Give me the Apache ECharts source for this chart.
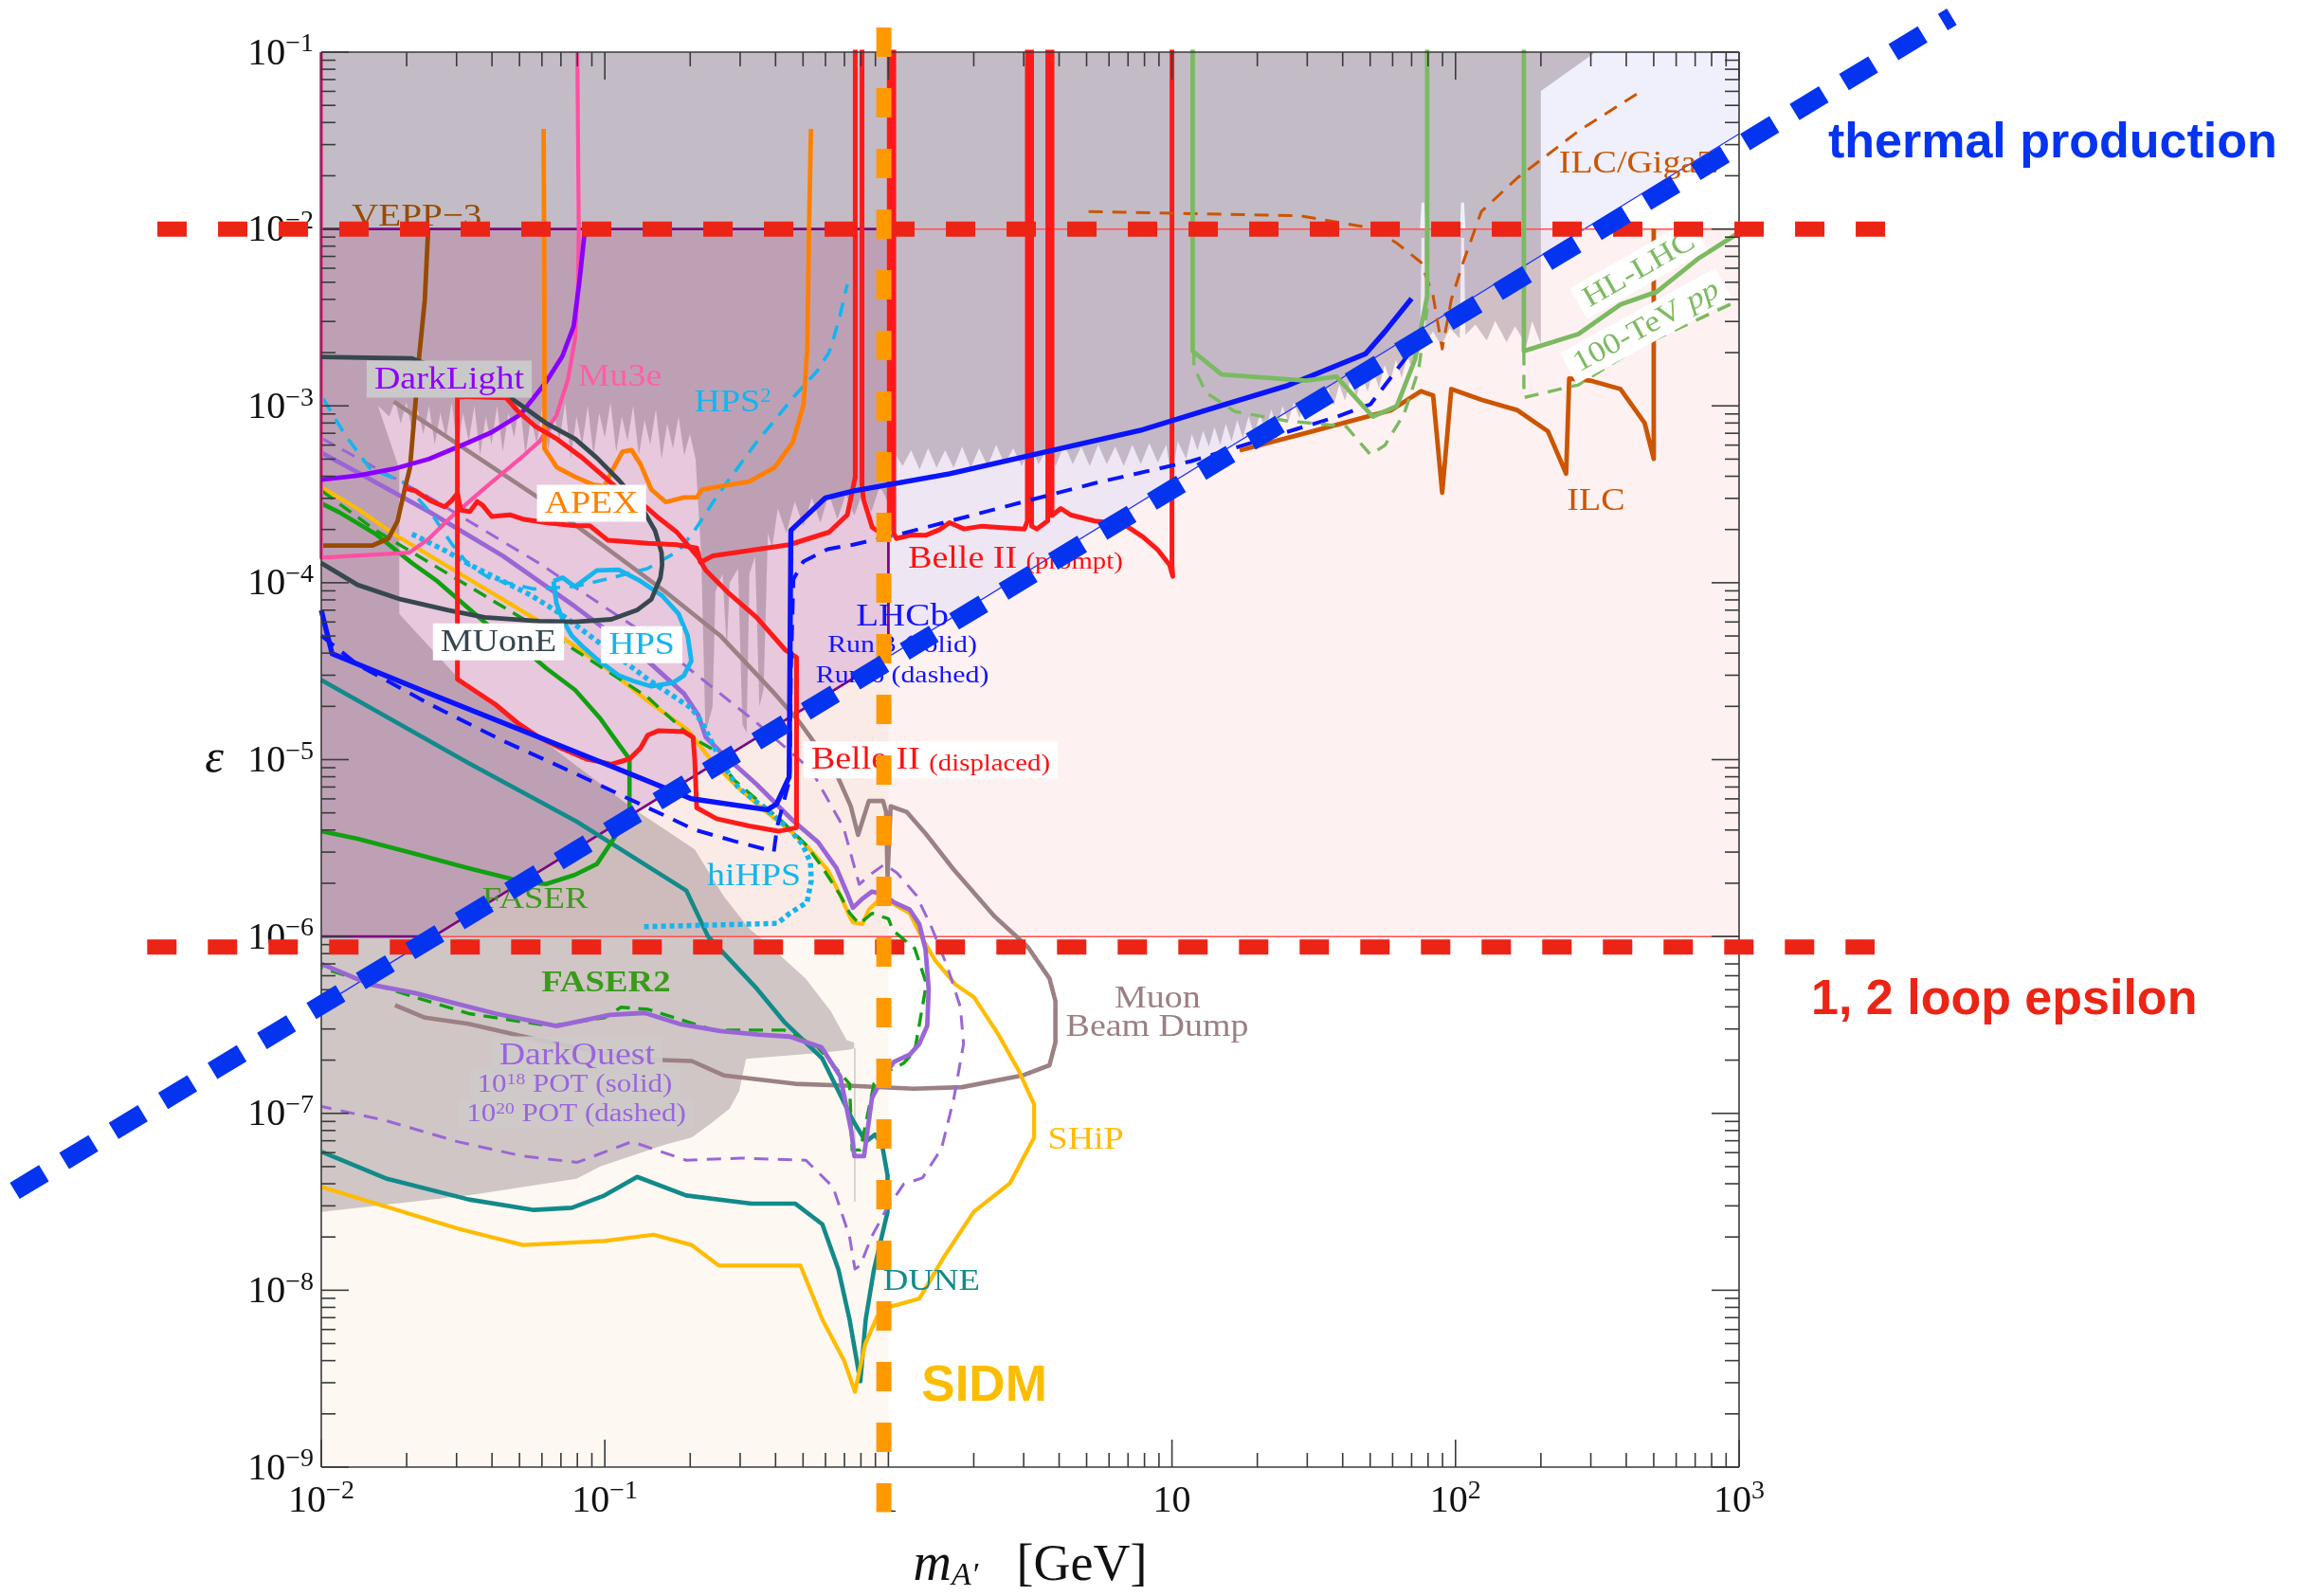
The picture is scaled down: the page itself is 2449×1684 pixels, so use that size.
<!DOCTYPE html>
<html>
<head>
<meta charset="utf-8">
<script src="https://cdn.jsdelivr.net/npm/echarts@6/dist/echarts.min.js"></script>
<style>
  html, body { margin: 0; padding: 0; background: #ffffff; }
  #chart { width: 2449px; height: 1684px; }
</style>
</head>
<body>
<div id="chart"></div>
<script>
// Dark photon parameter space: kinetic mixing epsilon versus A' mass.
// Every curve and region is listed as [log10(m / GeV), log10(epsilon)] pairs.

const SERIF = "'Liberation Serif', 'DejaVu Serif', serif";
const SANS = "'Liberation Sans', Arial, sans-serif";

// ---------- axes ----------
const X_MIN = 0.01, X_MAX = 1000;
const Y_MIN = 1e-9, Y_MAX = 1e-1;
const X_DECADES = [0.01, 0.1, 1, 10, 100, 1000];
const Y_DECADES = [1e-9, 1e-8, 1e-7, 1e-6, 1e-5, 1e-4, 1e-3, 1e-2, 1e-1];

// ---------- shaded regions ----------
const lowMassStrip = [[-2, -9], [0, -9], [0, -2], [-2, -2]];
const loopBand = [[-2, -6], [3, -6], [3, -2], [-2, -2]];
const aboveThermalHeavy = [[0, -4.418], [3, -1.462], [3, -1], [0, -1]];
const sidmBand = [[-2, -6], [-1.6045, -6], [0, -4.418], [0, -2], [-2, -2]];

const excludedTop = [
  [-2, -1], [2.494, -1], [2.301, -1.22], [2.301, -2], [2.035, -2], [2.03, -1.85], [2.02, -1.85],
  [2.015, -2], [1.895, -2], [1.89, -1.85], [1.88, -1.85], [1.875, -2], [-2, -2]
];

const excludedBelow = [
  [-2, -2], [2.301, -2], [2.301, -2.65], [2.27, -2.52], [2.25, -2.66], [2.21, -2.55], [2.18, -2.64],
  [2.14, -2.52], [2.11, -2.63], [2.07, -2.54], [2.035, -2.60],
  [2.03, -2.05], [2.02, -2.05], [2.015, -2.62], [1.98, -2.56], [1.95, -2.66], [1.92, -2.58], [1.895, -2.65],
  [1.89, -2.05], [1.88, -2.05], [1.875, -2.68],
  [1.85, -2.80], [1.83, -2.72], [1.81, -2.84], [1.79, -2.74], [1.77, -2.86], [1.75, -2.77], [1.73, -2.90],
  [1.71, -2.80], [1.69, -2.92], [1.67, -2.83], [1.65, -2.95], [1.63, -2.85], [1.61, -2.97], [1.59, -2.88],
  [1.57, -3.00], [1.55, -2.90], [1.53, -3.02], [1.51, -2.93], [1.49, -3.05], [1.47, -2.95], [1.45, -3.07],
  [1.43, -2.98], [1.41, -3.09], [1.39, -3.00], [1.37, -3.12], [1.35, -3.02], [1.33, -3.14], [1.31, -3.05],
  [1.29, -3.16], [1.27, -3.06], [1.25, -3.18], [1.23, -3.08], [1.21, -3.20], [1.19, -3.10], [1.17, -3.22],
  [1.15, -3.12], [1.13, -3.23], [1.11, -3.14], [1.09, -3.25], [1.07, -3.16], [1.05, -3.30], [1.02, -3.20],
  [1.00, -3.42], [0.98, -3.22], [0.95, -3.32], [0.92, -3.21], [0.89, -3.33], [0.86, -3.22], [0.83, -3.34],
  [0.80, -3.23], [0.77, -3.33], [0.74, -3.22], [0.71, -3.34], [0.68, -3.23], [0.65, -3.33], [0.62, -3.22],
  [0.59, -3.34], [0.56, -3.24], [0.53, -3.33], [0.50, -3.23], [0.47, -3.34], [0.44, -3.24], [0.41, -3.33],
  [0.38, -3.22], [0.35, -3.34], [0.32, -3.24], [0.29, -3.35], [0.26, -3.23], [0.23, -3.35], [0.20, -3.25],
  [0.17, -3.35], [0.14, -3.24], [0.11, -3.36], [0.08, -3.25], [0.05, -3.34], [0.02, -3.26], [0.0, -3.30],
  [0.0, -3.55], [-0.03, -3.45], [-0.06, -3.60], [-0.09, -3.48], [-0.12, -3.62], [-0.15, -3.50], [-0.18, -3.64],
  [-0.21, -3.50], [-0.24, -3.66], [-0.27, -3.52], [-0.30, -3.68], [-0.33, -3.54], [-0.36, -3.72], [-0.39, -3.58],
  [-0.41, -3.80], [-0.425, -3.72], [-0.44, -4.60], [-0.455, -4.70], [-0.47, -3.85], [-0.49, -3.95],
  [-0.50, -4.85], [-0.515, -4.80], [-0.53, -3.92], [-0.56, -4.00], [-0.57, -4.38], [-0.585, -3.95],
  [-0.61, -4.05], [-0.62, -4.70], [-0.645, -4.85], [-0.66, -3.85],
  [-0.68, -3.30], [-0.70, -3.16], [-0.72, -3.28], [-0.74, -3.06], [-0.76, -3.24], [-0.78, -3.10], [-0.80, -3.30],
  [-0.82, -3.02], [-0.84, -3.22], [-0.86, -3.08], [-0.88, -3.28], [-0.90, -3.00], [-0.92, -3.20], [-0.94, -3.06],
  [-0.96, -3.26], [-0.98, -2.98], [-1.00, -3.18], [-1.02, -3.04], [-1.04, -3.28], [-1.06, -3.00], [-1.08, -3.22],
  [-1.10, -3.06], [-1.12, -3.30], [-1.14, -2.98], [-1.16, -3.20], [-1.18, -3.04], [-1.20, -3.26], [-1.22, -3.00],
  [-1.24, -3.22], [-1.26, -3.06], [-1.28, -3.28], [-1.30, -2.98], [-1.32, -3.18], [-1.34, -3.04], [-1.36, -3.26],
  [-1.38, -3.00], [-1.40, -3.22], [-1.42, -3.06], [-1.44, -3.28], [-1.46, -3.00], [-1.48, -3.20], [-1.50, -3.04],
  [-1.52, -3.24], [-1.54, -2.98], [-1.56, -3.18], [-1.58, -3.04], [-1.60, -3.22], [-1.62, -3.00], [-1.64, -3.16],
  [-1.66, -3.02], [-1.68, -3.14], [-1.70, -2.98], [-1.72, -3.10], [-1.74, -2.97], [-1.76, -3.06], [-1.80, -3.00],
  [-1.725, -3.356], [-1.725, -4.176], [-1.514, -4.545], [-1.233, -4.873], [-0.913, -5.262], [-0.798, -5.385],
  [-0.683, -5.508], [-0.58, -5.774], [-0.491, -5.955], [-0.404, -6.074], [-0.292, -6.238], [-0.203, -6.422],
  [-0.147, -6.586], [-0.121, -6.60], [-0.121, -7.50], [-0.116, -7.50], [-0.116, -6.63], [-0.137, -6.64],
  [-0.233, -6.657], [-0.502, -6.692], [-0.526, -6.873], [-0.56, -6.973], [-0.626, -7.058], [-0.694, -7.137],
  [-0.793, -7.18], [-1.016, -7.30], [-1.10, -7.37], [-1.48, -7.464], [-2.0, -7.557]
];

// ---------- boundary lines of the shaded bands ----------
const thermalThin = [[-2, -6.39], [3, -1.462]];
const sidmEdge = [[-2, -6], [-1.6045, -6], [0, -4.418], [0, -2], [-2, -2]];
const loopEdgeTop = [[0, -2], [3, -2]];
const loopEdgeBottom = [[-1.6045, -6], [3, -6]];

// ---------- projected and existing limits ----------
const belleIIPrompt = [
  [-1.706, -3.464], [-1.667, -3.482], [-1.616, -3.535], [-1.565, -3.571], [-1.540, -3.535], [-1.520, -3.494],
  [-1.508, -3.589], [-1.476, -3.598], [-1.450, -3.541], [-1.431, -3.562], [-1.399, -3.625], [-1.335, -3.616],
  [-1.284, -3.642], [-1.207, -3.660], [-1.105, -3.678], [-1.053, -3.678], [-0.990, -3.759], [-0.849, -3.777],
  [-0.746, -3.785], [-0.676, -3.803], [-0.663, -3.884], [-0.619, -3.848], [-0.465, -3.812], [-0.350, -3.785],
  [-0.209, -3.714], [-0.145, -3.616], [-0.126, -3.473], [-0.117, -3.40], [-0.117, -0.5], [-0.093, -0.5],
  [-0.093, -3.45], [-0.088, -3.526], [-0.057, -3.687], [-0.006, -3.741], [0.003, -3.70], [0.003, -0.5],
  [0.019, -0.5], [0.019, -3.72], [0.028, -3.75], [0.080, -3.73], [0.131, -3.732], [0.180, -3.70], [0.216, -3.66],
  [0.267, -3.696], [0.330, -3.680], [0.387, -3.687], [0.480, -3.696], [0.490, -3.65], [0.490, -0.5],
  [0.505, -0.5], [0.505, -3.68], [0.523, -3.696], [0.562, -3.65], [0.562, -0.5], [0.577, -0.5], [0.577, -3.62],
  [0.608, -3.58], [0.642, -3.616], [0.728, -3.651], [0.830, -3.669], [0.898, -3.741], [0.949, -3.812],
  [0.992, -3.90], [1.003, -3.964], [1.0, -3.90], [1.0, -0.5]
];
const belleIIDisplaced = [
  [-1.520, -2.946], [-1.520, -4.545], [-1.463, -4.606], [-1.386, -4.688], [-1.309, -4.791], [-1.233, -4.873],
  [-1.156, -4.934], [-1.066, -4.996], [-0.977, -5.026], [-0.913, -4.996], [-0.874, -4.934], [-0.849, -4.862],
  [-0.810, -4.836], [-0.721, -4.842], [-0.689, -4.873], [-0.683, -4.996], [-0.676, -5.272], [-0.606, -5.334],
  [-0.491, -5.375], [-0.388, -5.405], [-0.324, -5.385], [-0.324, -4.422], [-0.363, -4.381], [-0.465, -4.196],
  [-0.567, -4.053], [-0.644, -3.930], [-0.670, -3.858], [-0.746, -3.714], [-0.810, -3.634], [-0.874, -3.544],
  [-0.938, -3.491], [-1.002, -3.401], [-1.079, -3.294], [-1.169, -3.187], [-1.245, -3.116], [-1.309, -3.026],
  [-1.348, -2.955], [-1.520, -2.946]
];
const muone = [
  [-2.0, -2.723], [-1.680, -2.732], [-1.348, -2.937], [-1.284, -3.009], [-1.207, -3.098], [-1.105, -3.187],
  [-1.028, -3.294], [-0.951, -3.419], [-0.874, -3.562], [-0.823, -3.705], [-0.800, -3.830], [-0.798, -3.90],
  [-0.804, -3.971], [-0.836, -4.094], [-0.887, -4.155], [-0.977, -4.207], [-1.105, -4.221], [-1.233, -4.217],
  [-1.424, -4.196], [-1.552, -4.155], [-1.719, -4.094], [-1.872, -4.012], [-2.0, -3.889]
];
const apex = [
  [-1.216, -1.434], [-1.213, -2.5], [-1.213, -3.241], [-1.169, -3.348], [-1.105, -3.401], [-1.041, -3.446],
  [-1.002, -3.455], [-0.977, -3.375], [-0.938, -3.259], [-0.906, -3.250], [-0.874, -3.330], [-0.836, -3.473],
  [-0.785, -3.544], [-0.721, -3.518], [-0.676, -3.518], [-0.657, -3.473], [-0.593, -3.455], [-0.491, -3.428],
  [-0.401, -3.348], [-0.337, -3.205], [-0.299, -2.991], [-0.286, -2.669], [-0.280, -2.0], [-0.273, -1.434]
];
const mu3e = [
  [-1.097, -1.0], [-1.092, -2.0], [-1.095, -2.35], [-1.105, -2.62], [-1.13, -2.85], [-1.17, -3.05],
  [-1.23, -3.20], [-1.30, -3.30], [-1.42, -3.46], [-1.55, -3.64], [-1.62, -3.75], [-1.69, -3.83],
  [-2.0, -3.858], [-2.0, -1.0]
];
const darkLight = [
  [-1.07, -2.0], [-1.09, -2.3], [-1.11, -2.55], [-1.15, -2.72], [-1.207, -2.864], [-1.297, -3.048],
  [-1.40, -3.15], [-1.488, -3.212], [-1.62, -3.30], [-1.744, -3.356], [-1.872, -3.395], [-2.0, -3.417]
];
const vepp3 = [
  [-1.623, -2.0], [-1.635, -2.402], [-1.655, -2.723], [-1.670, -3.026], [-1.687, -3.348], [-1.706, -3.473],
  [-1.731, -3.651], [-1.763, -3.750], [-1.821, -3.790], [-2.0, -3.790]
];
const hps2 = [
  [-1.993, -2.96], [-1.916, -3.164], [-1.830, -3.351], [-1.711, -3.432], [-1.609, -3.614], [-1.54, -3.78],
  [-1.48, -3.90], [-1.40, -3.98], [-1.25, -4.035], [-1.10, -4.02], [-0.97, -3.97], [-0.85, -3.92],
  [-0.74, -3.82], [-0.69, -3.72], [-0.60, -3.50], [-0.465, -3.205], [-0.40, -3.08], [-0.337, -2.955],
  [-0.25, -2.80], [-0.235, -2.76], [-0.21, -2.70], [-0.196, -2.634], [-0.171, -2.491], [-0.145, -2.312]
];
const hps = [
  [-1.181, -3.991], [-1.149, -3.971], [-1.105, -4.022], [-1.028, -3.930], [-0.951, -3.926], [-0.874, -3.991],
  [-0.798, -4.073], [-0.740, -4.176], [-0.708, -4.299], [-0.695, -4.442], [-0.721, -4.524], [-0.759, -4.565],
  [-0.836, -4.586], [-0.900, -4.555], [-0.951, -4.524], [-1.028, -4.432], [-1.079, -4.360], [-1.117, -4.299],
  [-1.149, -4.207], [-1.171, -4.114], [-1.181, -3.991]
];
const hiHps = [
  [-1.680, -3.725], [-1.565, -3.817], [-1.463, -3.909], [-1.360, -3.991], [-1.258, -4.073], [-1.156, -4.176],
  [-1.053, -4.299], [-0.951, -4.422], [-0.849, -4.545], [-0.772, -4.627], [-0.695, -4.709], [-0.657, -4.791],
  [-0.619, -4.914], [-0.580, -5.037], [-0.529, -5.159], [-0.404, -5.316], [-0.348, -5.397], [-0.303, -5.479],
  [-0.275, -5.582], [-0.272, -5.684], [-0.287, -5.807], [-0.348, -5.869], [-0.392, -5.926], [-0.872, -5.945]
];
const muonBeamDump = [
  [-1.744, -2.977], [-1.233, -3.52], [-0.785, -4.053], [-0.593, -4.299], [-0.401, -4.627], [-0.312, -4.791],
  [-0.248, -4.934], [-0.184, -5.078], [-0.133, -5.262], [-0.107, -5.426], [-0.069, -5.234], [-0.019, -5.234],
  [-0.008, -5.295], [-0.003, -5.664], [0.008, -5.264], [0.064, -5.295], [0.131, -5.418], [0.231, -5.623],
  [0.376, -5.889], [0.443, -5.987], [0.493, -6.062], [0.568, -6.237], [0.589, -6.365], [0.589, -6.599],
  [0.568, -6.728], [0.472, -6.786], [0.259, -6.852], [0.088, -6.861], [-0.125, -6.845], [-0.329, -6.833],
  [-0.579, -6.786], [-0.694, -6.704], [-0.905, -6.693], [-1.289, -6.564], [-1.481, -6.494], [-1.634, -6.459],
  [-1.74, -6.389]
];
const lhcbRun3 = [
  [-2.0, -4.155], [-1.962, -4.401], [-1.616, -4.627], [-1.233, -4.873], [-0.977, -5.037], [-0.695, -5.221],
  [-0.427, -5.283], [-0.395, -5.252], [-0.350, -5.098], [-0.344, -3.704], [-0.222, -3.52], [-0.125, -3.482],
  [0.216, -3.384], [0.557, -3.259], [0.898, -3.134], [1.188, -2.991], [1.41, -2.884], [1.683, -2.705],
  [1.751, -2.58], [1.845, -2.393]
];
const lhcbRun6 = [
  [-2.0, -4.299], [-1.872, -4.463], [-1.616, -4.688], [-1.36, -4.893], [-1.105, -5.078], [-0.927, -5.213],
  [-0.682, -5.397], [-0.548, -5.459], [-0.404, -5.52], [-0.392, -5.377], [-0.348, -5.11], [-0.344, -4.5],
  [-0.335, -3.98], [-0.30, -3.88], [-0.214, -3.81], [-0.125, -3.785], [0.046, -3.723], [0.387, -3.58],
  [0.728, -3.437], [1.069, -3.312], [1.325, -3.187], [1.58, -3.062], [1.70, -2.991], [1.836, -2.705]
];
const faser = [
  [-2.0, -3.551], [-1.936, -3.602], [-1.808, -3.725], [-1.68, -3.889], [-1.591, -3.991], [-1.488, -4.135],
  [-1.399, -4.258], [-1.297, -4.36], [-1.207, -4.483], [-1.105, -4.606], [-1.015, -4.77], [-0.951, -4.914],
  [-0.913, -4.996], [-0.913, -5.283], [-0.951, -5.405], [-1.028, -5.59], [-1.105, -5.651], [-1.207, -5.703],
  [-1.284, -5.692], [-1.488, -5.611], [-1.68, -5.528], [-1.872, -5.447], [-2.0, -5.405]
];
const faser2 = [
  [-2.0, -3.479], [-1.808, -3.704], [-1.616, -3.889], [-1.36, -4.135], [-1.105, -4.381], [-0.849, -4.647],
  [-0.695, -4.873], [-0.615, -4.946], [-0.548, -5.11], [-0.459, -5.233], [-0.37, -5.356], [-0.292, -5.479],
  [-0.236, -5.602], [-0.17, -5.766], [-0.136, -5.869], [-0.103, -5.93], [-0.058, -5.869], [0.0, -5.90],
  [0.016, -5.966], [0.093, -6.068], [0.131, -6.253], [0.131, -6.295], [0.093, -6.646], [0.054, -6.716],
  [-0.003, -6.763], [-0.051, -6.833], [-0.099, -7.207], [-0.128, -7.207], [-0.137, -6.833], [-0.252, -6.622],
  [-0.368, -6.529], [-0.617, -6.529], [-0.847, -6.412], [-0.943, -6.40], [-1.001, -6.459], [-1.193, -6.506],
  [-1.48, -6.436], [-1.672, -6.342], [-1.998, -6.178]
];
const darkQuest18 = [
  [-2.0, -3.264], [-1.872, -3.376], [-1.616, -3.602], [-1.36, -3.848], [-1.105, -4.135], [-0.849, -4.442],
  [-0.721, -4.627], [-0.67, -4.75], [-0.644, -4.873], [-0.593, -4.955], [-0.465, -5.139], [-0.337, -5.344],
  [-0.248, -5.467], [-0.184, -5.611], [-0.147, -5.75], [-0.125, -5.838], [-0.092, -5.787], [-0.058, -5.746],
  [-0.02, -5.76], [0.020, -5.807], [0.075, -5.848], [0.109, -5.93], [0.131, -6.074], [0.142, -6.299],
  [0.137, -6.504], [0.109, -6.607], [0.075, -6.668], [0.02, -6.709], [-0.025, -6.812], [-0.058, -6.914],
  [-0.086, -7.242], [-0.12, -7.242], [-0.131, -7.098], [-0.17, -6.791], [-0.236, -6.627], [-0.348, -6.566],
  [-0.459, -6.555], [-0.593, -6.535], [-0.738, -6.494], [-0.86, -6.432], [-0.983, -6.443], [-1.17, -6.506],
  [-1.385, -6.436], [-1.672, -6.319], [-1.826, -6.272], [-2.0, -6.155]
];
const darkQuest20 = [
  [-2.0, -3.182], [-1.616, -3.52], [-1.233, -3.889], [-0.849, -4.299], [-0.465, -4.791], [-0.273, -5.057],
  [-0.158, -5.385], [-0.103, -5.705], [-0.058, -5.643], [-0.014, -5.592], [0.03, -5.64], [0.098, -5.766],
  [0.153, -5.951], [0.209, -6.176], [0.254, -6.40], [0.265, -6.607], [0.231, -6.914], [0.187, -7.20],
  [0.12, -7.365], [0.054, -7.40], [-0.01, -7.55], [-0.06, -7.70], [-0.099, -7.86], [-0.118, -7.88],
  [-0.137, -7.698], [-0.195, -7.417], [-0.291, -7.265], [-0.521, -7.253], [-0.713, -7.265], [-0.905, -7.16],
  [-1.097, -7.277], [-1.289, -7.242], [-1.519, -7.16], [-1.768, -7.043], [-1.998, -6.961]
];
const ship = [
  [-2.0, -3.458], [-1.872, -3.581], [-1.744, -3.725], [-1.616, -3.848], [-1.488, -3.971], [-1.36, -4.094],
  [-1.233, -4.217], [-1.105, -4.36], [-0.977, -4.504], [-0.849, -4.668], [-0.708, -4.832], [-0.619, -5.016],
  [-0.529, -5.159], [-0.44, -5.283], [-0.348, -5.40], [-0.281, -5.50], [-0.214, -5.623], [-0.17, -5.766],
  [-0.136, -5.889], [-0.125, -5.92], [-0.092, -5.93], [-0.069, -5.848], [-0.036, -5.797], [0.008, -5.807],
  [0.075, -5.869], [0.12, -6.012], [0.165, -6.135], [0.237, -6.272], [0.301, -6.342], [0.387, -6.552],
  [0.461, -6.763], [0.514, -6.95], [0.514, -7.137], [0.429, -7.394], [0.301, -7.557], [0.195, -7.814],
  [0.109, -8.048], [0.003, -8.095], [-0.04, -8.15], [-0.082, -8.305], [-0.118, -8.574], [-0.156, -8.399],
  [-0.233, -8.165], [-0.31, -7.861], [-0.598, -7.861], [-0.694, -7.744], [-0.828, -7.686], [-1.001, -7.721],
  [-1.289, -7.744], [-1.404, -7.698], [-1.519, -7.651], [-1.998, -7.417]
];
const dune = [
  [-2.0, -4.55], [-1.48, -5.02], [-1.10, -5.35], [-0.713, -5.74], [-0.636, -6.0], [-0.464, -6.295],
  [-0.368, -6.482], [-0.233, -6.69], [-0.125, -7.04], [-0.08, -7.16], [-0.047, -7.12], [-0.022, -7.18],
  [-0.003, -7.35], [-0.003, -7.557], [-0.051, -7.884], [-0.08, -8.165], [-0.099, -8.515], [-0.137, -8.165],
  [-0.176, -7.884], [-0.233, -7.627], [-0.329, -7.51], [-0.483, -7.51], [-0.713, -7.464], [-0.886, -7.359],
  [-1.001, -7.464], [-1.116, -7.534], [-1.25, -7.546], [-1.48, -7.487], [-1.768, -7.37], [-1.998, -7.218]
];
const hlLhcLow = [
  [1.073, -0.9], [1.073, -2.69], [1.175, -2.822], [1.473, -2.857], [1.58, -2.834], [1.708, -3.061],
  [1.793, -3.001], [1.857, -2.738], [1.90, -2.379], [1.90, -0.9]
];
const hlLhcHigh = [
  [2.241, -0.9], [2.241, -2.69], [2.433, -2.594], [2.582, -2.427], [2.71, -2.355], [2.859, -2.164], [3.0, -2.02]
];
const pp100Low = [
  [1.077, -2.69], [1.077, -2.78], [1.12, -2.925], [1.222, -3.032], [1.41, -3.086], [1.614, -3.116],
  [1.70, -3.276], [1.751, -3.223], [1.819, -3.044], [1.87, -2.794], [1.90, -2.45]
];
const pp100High = [[2.241, -2.69], [2.241, -2.953], [2.433, -2.881], [2.646, -2.666], [3.0, -2.403]];
const ilc = [
  [1.239, -3.252], [1.495, -3.144], [1.772, -3.025], [1.878, -2.917], [1.921, -2.941], [1.953, -3.491],
  [1.985, -2.905], [2.091, -2.965], [2.219, -3.025], [2.326, -3.144], [2.39, -3.383], [2.401, -2.845],
  [2.475, -2.857], [2.582, -2.905], [2.667, -3.097], [2.699, -3.30], [2.699, -1.997]
];
const ilcGigaZ = [
  [0.706, -1.901], [1.452, -1.925], [1.708, -1.996], [1.793, -2.08], [1.878, -2.188], [1.921, -2.379],
  [1.953, -2.678], [1.985, -2.40], [2.027, -2.188], [2.091, -1.901], [2.219, -1.71], [2.433, -1.447],
  [2.656, -1.219]
];

// ---------- benchmark lines drawn across the frame ----------
const thermalProduction = [[-3.081, -7.438], [3.75, -0.80]];
const loopEpsilonHigh = [[-2.578, -2.0], [3.515, -2.0]];
const loopEpsilonLow = [[-2.614, -6.06], [3.478, -6.06]];
const sidmMass = [[-0.016, -0.861], [-0.016, -9.254]];

// ---------- text ----------
const ANNOTATIONS = [
  { text: '{n|VEPP−3}', at: [-1.893, -1.932], color: '#964b00', size: 34, align: 'left' },
  { text: '{n|DarkLight}', at: [-1.549, -2.848], color: '#8f00ff', size: 33, bg: '#c9c9c9' },
  { text: '{n|Mu3e}', at: [-0.947, -2.837], color: '#ff5fa8', size: 33 },
  { text: '{n|HPS}{sup|2}', at: [-0.549, -2.982], color: '#12b5ee', size: 33 },
  { text: '{n|APEX}', at: [-1.047, -3.55], color: '#ff8000', size: 33, bg: '#ffffff' },
  { text: '{n|MUonE}', at: [-1.375, -4.334], color: '#37474f', size: 33, bg: '#ffffff' },
  { text: '{n|HPS}', at: [-0.870, -4.35], color: '#12b5ee', size: 33, bg: '#ffffff' },
  { text: '{n|hiHPS}', at: [-0.474, -5.665], color: '#12b5ee', size: 33 },
  { text: '{n|FASER}', at: [-1.246, -5.791], color: '#3a9a1c', size: 32 },
  { text: '{n|FASER2}', at: [-0.996, -6.265], color: '#3a9a1c', size: 32, bold: true },
  { text: '{n|DarkQuest}', at: [-1.098, -6.669], color: '#9966dd', size: 33, bg: 'rgba(206,201,201,0.92)' },
  { text: '{n|10}{sup|18}{n| POT (solid)}', at: [-1.106, -6.833], color: '#9966dd', size: 27, bg: 'rgba(206,201,201,0.92)' },
  { text: '{n|10}{sup|20}{n| POT (dashed)}', at: [-1.101, -7.0], color: '#9966dd', size: 27, bg: 'rgba(206,201,201,0.92)' },
  { text: '{n|Muon}', at: [0.949, -6.353], color: '#9b7f82', size: 33 },
  { text: '{n|Beam Dump}', at: [0.948, -6.517], color: '#9b7f82', size: 33 },
  { text: '{n|SHiP}', at: [0.696, -7.154], color: '#ffbb00', size: 33 },
  { text: '{n|DUNE}', at: [0.152, -7.952], color: '#138a8a', size: 32 },
  { text: '{n|LHCb}', at: [0.049, -4.195], color: '#1414ff', size: 34 },
  { text: '{n|Run 3 (solid)}', at: [0.049, -4.356], color: '#1414ff', size: 26 },
  { text: '{n|Run 6 (dashed)}', at: [0.049, -4.527], color: '#1414ff', size: 26 },
  { text: '{n|Belle II }{sm|(prompt)}', at: [0.448, -3.866], color: '#ff1010', size: 33 },
  { text: '{n|Belle II }{sm|(displaced)}', at: [0.149, -5.001], color: '#ff1010', size: 33, bg: '#ffffff' },
  { text: '{n|ILC/GigaZ}', at: [2.646, -1.632], color: '#cc5500', size: 33 },
  { text: '{n|HL-LHC}', at: [2.646, -2.228], color: '#7dba62', size: 31, bg: '#ffffff', rot: 0.52 },
  { text: '{n|100-TeV }{it|pp}', at: [2.672, -2.548], color: '#7dba62', size: 31, bg: '#ffffff', rot: 0.5 },
  { text: '{n|ILC}', at: [2.495, -3.544], color: '#cc5500', size: 33 }
];
const HEADLINES = [
  { text: '{n|thermal production}', at: [3.314, -1.52], color: '#0534f0', size: 52, align: 'left', font: SANS, bold: true, sx: 1 },
  { text: '{n|1, 2 loop epsilon}', at: [3.254, -6.362], color: '#ec2415', size: 52, align: 'left', font: SANS, bold: true, sx: 1 },
  { text: '{n|SIDM}', at: [0.338, -8.544], color: '#fbbd00', size: 53, font: SANS, bold: true, sx: 1 }
];

// ---------- helpers ----------
const lin = pts => pts.map(p => [Math.pow(10, p[0]), Math.pow(10, p[1])]);

function area(pts, fill, z) {
  const data = lin(pts);
  return {
    type: 'custom', data: [data[0]], z: z || 1, silent: true, clip: true, animation: false,
    renderItem: (params, api) => ({
      type: 'polygon',
      shape: { points: data.map(p => api.coord(p)) },
      style: { fill: fill }
    })
  };
}

function curve(pts, color, width, dash, z) {
  return {
    type: 'line', data: lin(pts), showSymbol: false, symbol: 'none', silent: true,
    z: z || 3, clip: true, animation: false,
    lineStyle: { color: color, width: width, type: dash || 'solid', cap: 'butt', join: 'round' }
  };
}

// long benchmark lines that run past the frame
function overlay(pts, color, width, dash, z) {
  const data = lin(pts);
  return {
    type: 'custom', data: [data[0]], z: z || 6, silent: true, clip: false, animation: false,
    renderItem: (params, api) => ({
      type: 'polyline',
      shape: { points: data.map(p => api.coord(p)) },
      style: { stroke: color, lineWidth: width, lineDash: dash, lineCap: 'butt', fill: null }
    })
  };
}

function labelRich(size, family, weight) {
  const base = { fontFamily: family, fontWeight: weight };
  const sm = Math.round(size * 0.76), sup = Math.round(size * 0.62);
  return {
    n: Object.assign({ fontSize: size, lineHeight: size, verticalAlign: 'bottom' }, base),
    it: Object.assign({ fontSize: size, lineHeight: size, verticalAlign: 'bottom', fontStyle: 'italic' }, base),
    sm: Object.assign({ fontSize: sm, lineHeight: sm, verticalAlign: 'bottom' }, base),
    sup: Object.assign({ fontSize: sup, lineHeight: sup, verticalAlign: 'top' }, base)
  };
}

function textSeries(list, z) {
  return {
    type: 'custom', data: list.map(a => [Math.pow(10, a.at[0]), Math.pow(10, a.at[1])]),
    z: z, silent: true, clip: false, animation: false,
    renderItem: (params, api) => {
      const a = list[params.dataIndex];
      const p = api.coord([api.value(0), api.value(1)]);
      const family = a.font || SERIF;
      const weight = a.bold ? 'bold' : 'normal';
      return {
        type: 'text', x: p[0], y: p[1], rotation: a.rot || 0,
        scaleX: a.sx !== undefined ? a.sx : 1.15,
        style: {
          text: a.text, fill: a.color, fontFamily: family, fontSize: a.size, fontWeight: weight,
          align: a.align || 'center', verticalAlign: 'middle',
          backgroundColor: a.bg || 'transparent', padding: a.bg ? [4, 7, 2, 7] : 0,
          rich: labelRich(a.size, family, weight)
        }
      };
    }
  };
}

function minorList(decades) {
  const out = [];
  for (let i = 0; i < decades.length - 1; i++) {
    for (let k = 2; k <= 9; k++) out.push(decades[i] * k);
  }
  return out;
}
const X_MINOR = minorList(X_DECADES);
const Y_MINOR = minorList(Y_DECADES);

// frame and inward ticks on all four sides
const frameSeries = {
  type: 'custom', data: [[X_MIN, Y_MIN]], z: 5, silent: true, clip: false, animation: false,
  renderItem: (params, api) => {
    const bl = api.coord([X_MIN, Y_MIN]), tr = api.coord([X_MAX, Y_MAX]);
    const L = bl[0], B = bl[1], R = tr[0], T = tr[1];
    const kids = [];
    const seg = (x1, y1, x2, y2) => kids.push({
      type: 'line', shape: { x1: x1, y1: y1, x2: x2, y2: y2 },
      style: { stroke: '#3a3a3a', lineWidth: 1.6 }
    });
    const xTick = (v, len) => { const x = api.coord([v, Y_MIN])[0]; seg(x, B, x, B - len); seg(x, T, x, T + len); };
    const yTick = (v, len) => { const y = api.coord([X_MIN, v])[1]; seg(L, y, L + len, y); seg(R, y, R - len, y); };
    X_DECADES.forEach(v => xTick(v, 29));
    X_MINOR.forEach(v => xTick(v, 15));
    Y_DECADES.forEach(v => yTick(v, 29));
    Y_MINOR.forEach(v => yTick(v, 15));
    seg(L, T, R, T); seg(R, T, R, B); seg(R, B, L, B); seg(L, B, L, T);
    return { type: 'group', children: kids };
  }
};

function powLabel(v) {
  const n = Math.round(Math.log10(v));
  if (n === 0) return '{b|1}';
  if (n === 1) return '{b|10}';
  return '{b|10}{s|' + (n < 0 ? '−' + (-n) : n) + '}';
}
const TICK_RICH = {
  b: { fontFamily: SERIF, fontSize: 40, lineHeight: 44, verticalAlign: 'bottom', color: '#111111' },
  s: { fontFamily: SERIF, fontSize: 28, lineHeight: 24, verticalAlign: 'top', color: '#111111' }
};

const DQ = '#9a66d6', GREEN = '#11a011', CYAN = '#15b5ee', RED = '#ff1a1a', BLUE = '#0a14ff', LHCG = '#7cba62', ILCC = '#cc5500';

const series = [
  area(lowMassStrip, '#fdf8f2'),
  area(loopBand, 'rgba(248,190,190,0.22)'),
  area(aboveThermalHeavy, 'rgba(205,205,250,0.30)'),
  area(sidmBand, '#e7c8dc'),
  area(excludedBelow, 'rgba(30,0,25,0.20)'),
  area(excludedTop, '#c3bcc6'),

  curve(thermalThin, '#2030ff', 1.3, 'solid', 2),
  curve(loopEdgeTop, '#ff5050', 1.5, 'solid', 2),
  curve(loopEdgeBottom, '#ff5050', 1.5, 'solid', 2),
  curve(sidmEdge, '#7a0a80', 2.8, 'solid', 2),

  curve(muonBeamDump, '#9b8084', 4.6),
  curve(dune, '#128a8a', 4.6),
  curve(ship, '#ffbb00', 4.2),
  curve(darkQuest20, DQ, 3, [15, 10]),
  curve(faser2, GREEN, 3.4, [15, 9]),
  curve(darkQuest18, DQ, 4.8),
  curve(faser, GREEN, 4.6),
  curve(hiHps, CYAN, 5.5, [5, 4]),
  curve(hps2, CYAN, 3.6, [15, 10]),
  curve(hps, CYAN, 4.8),
  curve(vepp3, '#964b00', 4.8),
  curve(mu3e, '#ff4fa3', 4.2),
  curve(darkLight, '#8a00ff', 4.8),
  curve(apex, '#ff8000', 4.8),
  curve(muone, '#37474f', 4.8),
  curve(belleIIDisplaced, RED, 5),
  curve(belleIIPrompt, RED, 5),
  curve(lhcbRun6, BLUE, 4, [17, 11]),
  curve(lhcbRun3, BLUE, 5.4),
  curve(ilcGigaZ, ILCC, 3, [15, 10]),
  curve(ilc, ILCC, 4.8),
  curve(pp100Low, LHCG, 3.4, [15, 10]),
  curve(pp100High, LHCG, 3.4, [15, 10]),
  curve(hlLhcLow, LHCG, 4.8),
  curve(hlLhcHigh, LHCG, 4.8),

  textSeries(ANNOTATIONS, 4),
  frameSeries,

  overlay(loopEpsilonHigh, '#ec2415', 16, [31, 33]),
  overlay(loopEpsilonLow, '#ec2415', 16, [31, 33]),
  overlay(sidmMass, '#ff9900', 16, [31, 33]),
  overlay(thermalProduction, '#0534f0', 20, [36, 25]),
  textSeries(HEADLINES, 7)
];

const chart = echarts.init(document.getElementById('chart'), null, { renderer: 'canvas' });
chart.setOption({
  animation: false,
  backgroundColor: '#ffffff',
  grid: { left: 339, top: 55, width: 1496, height: 1493, show: false, outerBoundsMode: 'none' },
  xAxis: {
    type: 'log', logBase: 10, min: X_MIN, max: X_MAX, z: 4,
    axisLine: { show: false }, axisTick: { show: false }, splitLine: { show: false }, minorTick: { show: false },
    axisLabel: { margin: 12, formatter: powLabel, rich: TICK_RICH, showMinLabel: true, showMaxLabel: true, hideOverlap: false },
    name: '{it|m}{sub|A′}{rm|   [GeV]}', nameLocation: 'middle', nameGap: 74,
    nameTextStyle: {
      rich: {
        it: { fontFamily: SERIF, fontStyle: 'italic', fontSize: 56, lineHeight: 58, verticalAlign: 'bottom', color: '#111111' },
        sub: { fontFamily: SERIF, fontStyle: 'italic', fontSize: 34, lineHeight: 20, verticalAlign: 'bottom', color: '#111111' },
        rm: { fontFamily: SERIF, fontSize: 54, lineHeight: 58, verticalAlign: 'bottom', color: '#111111' }
      }
    }
  },
  yAxis: {
    type: 'log', logBase: 10, min: Y_MIN, max: Y_MAX, z: 4,
    axisLine: { show: false }, axisTick: { show: false }, splitLine: { show: false }, minorTick: { show: false },
    axisLabel: { margin: 8, formatter: powLabel, rich: TICK_RICH, showMinLabel: true, showMaxLabel: true, hideOverlap: false },
    name: 'ε', nameLocation: 'middle', nameRotate: 0, nameGap: 103,
    nameTextStyle: { fontFamily: SERIF, fontStyle: 'italic', fontSize: 50, color: '#111111' }
  },
  series: series
});
</script>
</body>
</html>
